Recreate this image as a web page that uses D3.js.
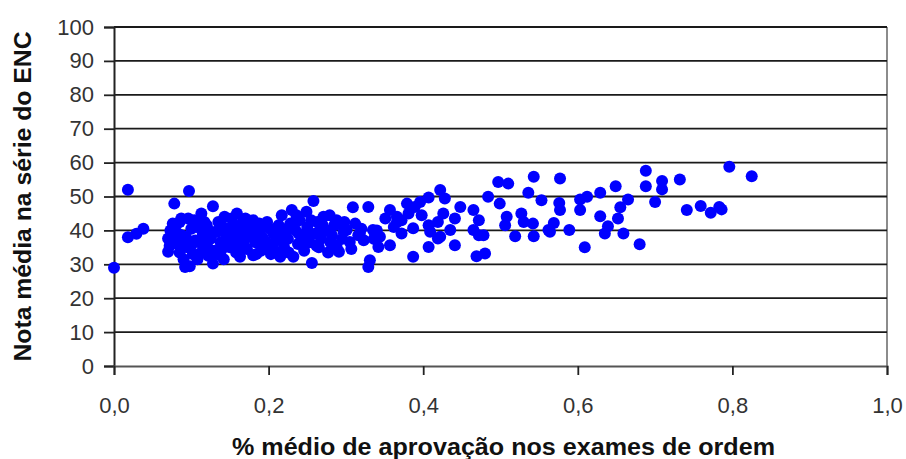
<!DOCTYPE html>
<html>
<head>
<meta charset="utf-8">
<script src="https://cdn.jsdelivr.net/npm/d3@7"></script>
<style>
  body { margin: 0; background: #fff; }
  #chart text { font-family: "Liberation Sans", Arial, sans-serif; }
</style>
</head>
<body>
<div id="chart"></div>
<script>
// % médio de aprovação (x) and nota média (y)
const aprovacao = [
  0.000, 0.018, 0.018, 0.029, 0.038,
  0.070, 0.070, 0.072, 0.075, 0.078, 0.080, 0.082, 0.085, 0.085, 0.088, 0.090, 0.092, 0.095, 0.096, 0.097,
  0.098, 0.100, 0.102, 0.105, 0.108, 0.111, 0.113, 0.115, 0.118, 0.120, 0.122, 0.125, 0.128, 0.128, 0.130,
  0.132, 0.135, 0.138, 0.139, 0.142, 0.145, 0.148, 0.150, 0.152, 0.155, 0.158, 0.159, 0.160, 0.163, 0.165,
  0.168, 0.170, 0.172, 0.175, 0.178, 0.180, 0.180, 0.183, 0.186, 0.190, 0.192, 0.195, 0.198, 0.200, 0.203,
  0.206, 0.210, 0.213, 0.215, 0.217, 0.220, 0.222, 0.225, 0.228, 0.230, 0.232, 0.235, 0.238, 0.240, 0.243,
  0.246, 0.249, 0.250, 0.253, 0.256, 0.258, 0.260, 0.263, 0.265, 0.268, 0.271, 0.274, 0.277, 0.279, 0.282,
  0.285, 0.288, 0.288, 0.291, 0.295, 0.297, 0.301, 0.305, 0.309, 0.312, 0.316, 0.318, 0.323, 0.329, 0.329,
  0.331, 0.335, 0.340, 0.342, 0.344, 0.351, 0.357, 0.357, 0.362, 0.366, 0.366, 0.372, 0.372, 0.379, 0.381,
  0.387, 0.387, 0.389, 0.396, 0.398, 0.407, 0.407, 0.407, 0.409, 0.419, 0.419, 0.422, 0.422, 0.426, 0.428,
  0.435, 0.441, 0.441, 0.448, 0.465, 0.465, 0.469, 0.472, 0.472, 0.478, 0.480, 0.484, 0.497, 0.499, 0.506,
  0.508, 0.510, 0.519, 0.527, 0.530, 0.536, 0.542, 0.543, 0.543, 0.553, 0.562, 0.564, 0.569, 0.576, 0.577,
  0.577, 0.589, 0.603, 0.603, 0.609, 0.612, 0.629, 0.629, 0.635, 0.639, 0.649, 0.652, 0.655, 0.659, 0.665,
  0.680, 0.688, 0.688, 0.700, 0.709, 0.709, 0.732, 0.741, 0.759, 0.772, 0.783, 0.786, 0.796, 0.825,
  // extra points filling the dense cluster
  0.076, 0.083, 0.090, 0.104, 0.110, 0.117, 0.124, 0.136, 0.143, 0.147, 0.156, 0.162, 0.170, 0.184, 0.197,
  0.208, 0.218, 0.226, 0.236, 0.244, 0.255, 0.262, 0.270, 0.283, 0.293, 0.307, 0.320, 0.336,
  0.073, 0.079, 0.087, 0.093, 0.101, 0.107, 0.114, 0.121, 0.127, 0.134, 0.141, 0.149, 0.153, 0.161, 0.167,
  0.174, 0.181, 0.188, 0.194, 0.202, 0.211, 0.224, 0.239, 0.252, 0.267, 0.280, 0.298
];
const nota = [
  29.0, 52.0, 38.0, 39.0, 40.5,
  33.7, 37.6, 35.5, 39.5, 47.9, 41.5, 36.0, 42.5, 33.5, 38.5, 31.5, 29.2, 35.0, 43.5, 51.6,
  29.4, 40.5, 33.0, 37.0, 31.5, 33.2, 45.0, 39.0, 35.5, 41.5, 32.5, 37.5, 47.1, 30.2, 34.0,
  39.5, 42.5, 36.5, 34.2, 31.5, 38.5, 40.5, 35.0, 43.5, 37.0, 33.5, 45.0, 39.0, 32.2, 41.0,
  36.0, 38.0, 34.5, 42.0, 39.5, 43.0, 32.7, 36.5, 40.0, 34.0, 38.0, 41.0, 42.5, 35.5, 33.0,
  39.0, 37.0, 41.5, 32.2, 44.5, 35.0, 39.5, 37.5, 42.0, 46.0, 32.2, 40.0, 36.0, 43.0, 38.5,
  34.0, 45.5, 41.0, 36.5, 30.4, 48.7, 39.0, 42.5, 35.0, 37.5, 44.0, 40.0, 33.5, 44.5, 38.5,
  41.5, 43.0, 35.1, 33.7, 37.5, 39.6, 40.1, 36.6, 46.8, 42.0, 38.6, 39.1, 37.1, 46.9, 29.2,
  31.2, 40.1, 40.0, 35.1, 38.1, 43.5, 46.0, 35.6, 41.0, 44.0, 42.5, 39.1, 43.0, 47.9, 45.0,
  40.6, 32.2, 46.9, 48.4, 44.5, 49.7, 41.5, 35.1, 39.6, 42.5, 37.6, 51.9, 38.1, 45.0, 49.4,
  40.1, 43.5, 35.6, 46.9, 46.0, 40.1, 32.4, 43.0, 38.6, 38.6, 33.2, 49.9, 54.3, 47.9, 41.5,
  44.0, 53.8, 38.3, 45.0, 42.5, 51.1, 42.0, 55.8, 38.3, 48.9, 40.1, 39.6, 42.2, 48.1, 46.0,
  55.3, 40.1, 49.1, 46.0, 35.0, 49.9, 51.1, 44.2, 39.1, 41.2, 53.0, 43.5, 46.8, 39.1, 49.1,
  35.9, 57.6, 53.0, 48.4, 54.6, 52.1, 55.0, 46.0, 47.2, 45.2, 46.9, 46.2, 58.8, 56.0,
  // extra points filling the dense cluster
  42.0, 39.0, 35.5, 43.0, 36.5, 42.5, 33.5, 40.0, 44.0, 36.0, 41.5, 35.0, 43.5, 33.0, 36.5,
  34.0, 38.0, 33.5, 44.5, 37.0, 43.0, 35.5, 41.5, 36.0, 42.0, 34.5, 40.5, 37.5,
  40.0, 37.0, 43.5, 38.0, 36.0, 41.0, 38.0, 35.0, 39.5, 33.0, 41.0, 37.5, 39.5, 36.0, 43.0,
  40.5, 37.5, 42.0, 36.0, 40.5, 38.5, 40.5, 39.0, 38.5, 40.5, 36.5, 42.5
];
const yTicks = [0, 10, 20, 30, 40, 50, 60, 70, 80, 90, 100];
const xTicks = [0, 0.2, 0.4, 0.6, 0.8, 1.0];

const points = aprovacao.map((a, i) => ({ a, n: nota[i] }));

const W = 906, H = 459;
const margin = {top: 27, right: 19, bottom: 93, left: 114},
      width = W - margin.left - margin.right,
      height = H - margin.top - margin.bottom;

const svg = d3.select("#chart")
  .append("svg")
    .attr("width", W)
    .attr("height", H);

const g = svg.append("g")
    .attr("transform", `translate(${margin.left},${margin.top})`);

const x = d3.scaleLinear().domain([0, 1]).range([0, width]);
const y = d3.scaleLinear().domain([0, 100]).range([height, 0]);

// plot border (grey) on the right
g.append("line")
  .attr("x1", width).attr("x2", width)
  .attr("y1", 0).attr("y2", height)
  .attr("stroke", "#8c8c8c").attr("stroke-width", 2);

// horizontal gridlines
g.selectAll(".grid")
  .data(yTicks.filter(d => d > 0))
  .enter().append("line")
    .attr("class", "grid")
    .attr("x1", 0).attr("x2", width)
    .attr("y1", d => y(d)).attr("y2", d => y(d))
    .attr("stroke", "#1a1a1a").attr("stroke-width", 1.8);

// y axis
const yAxis = g.append("g")
  .call(d3.axisLeft(y).tickValues(yTicks).tickSize(10).tickPadding(10));
yAxis.select(".domain").attr("stroke", "#222").attr("stroke-width", 2);
yAxis.selectAll(".tick line").attr("stroke", "#222").attr("stroke-width", 1.8);
yAxis.selectAll("text")
  .attr("font-size", "22px")
  .attr("fill", "#333")
  .attr("font-family", "Liberation Sans, Arial, sans-serif");

// x axis
const xAxis = g.append("g")
  .attr("transform", `translate(0,${height})`)
  .call(d3.axisBottom(x).tickValues(xTicks).tickSize(9).tickPadding(22)
    .tickFormat(d => d.toFixed(1).replace(".", ",")));
xAxis.select(".domain").attr("stroke", "#555").attr("stroke-width", 2);
xAxis.selectAll(".tick line").attr("stroke", "#222").attr("stroke-width", 1.8);
xAxis.selectAll("text")
  .attr("font-size", "22px")
  .attr("fill", "#333")
  .attr("font-family", "Liberation Sans, Arial, sans-serif");

// points
g.selectAll(".dot")
  .data(points)
  .enter().append("circle")
    .attr("class", "dot")
    .attr("cx", d => x(d.a))
    .attr("cy", d => y(d.n))
    .attr("r", 6)
    .attr("fill", "#0000ff");

// axis titles
svg.append("text")
  .attr("x", margin.left + width / 2 + 3)
  .attr("y", 455)
  .attr("text-anchor", "middle")
  .attr("font-size", "23px")
  .attr("font-weight", "bold")
  .attr("fill", "#111")
  .attr("textLength", 543)
  .attr("lengthAdjust", "spacingAndGlyphs")
  .text("% médio de aprovação nos exames de ordem");

svg.append("text")
  .attr("transform", `translate(31,${margin.top + height / 2}) rotate(-90)`)
  .attr("text-anchor", "middle")
  .attr("font-size", "23px")
  .attr("font-weight", "bold")
  .attr("fill", "#111")
  .attr("textLength", 330)
  .attr("lengthAdjust", "spacingAndGlyphs")
  .text("Nota média na série do ENC");
</script>
</body>
</html>
